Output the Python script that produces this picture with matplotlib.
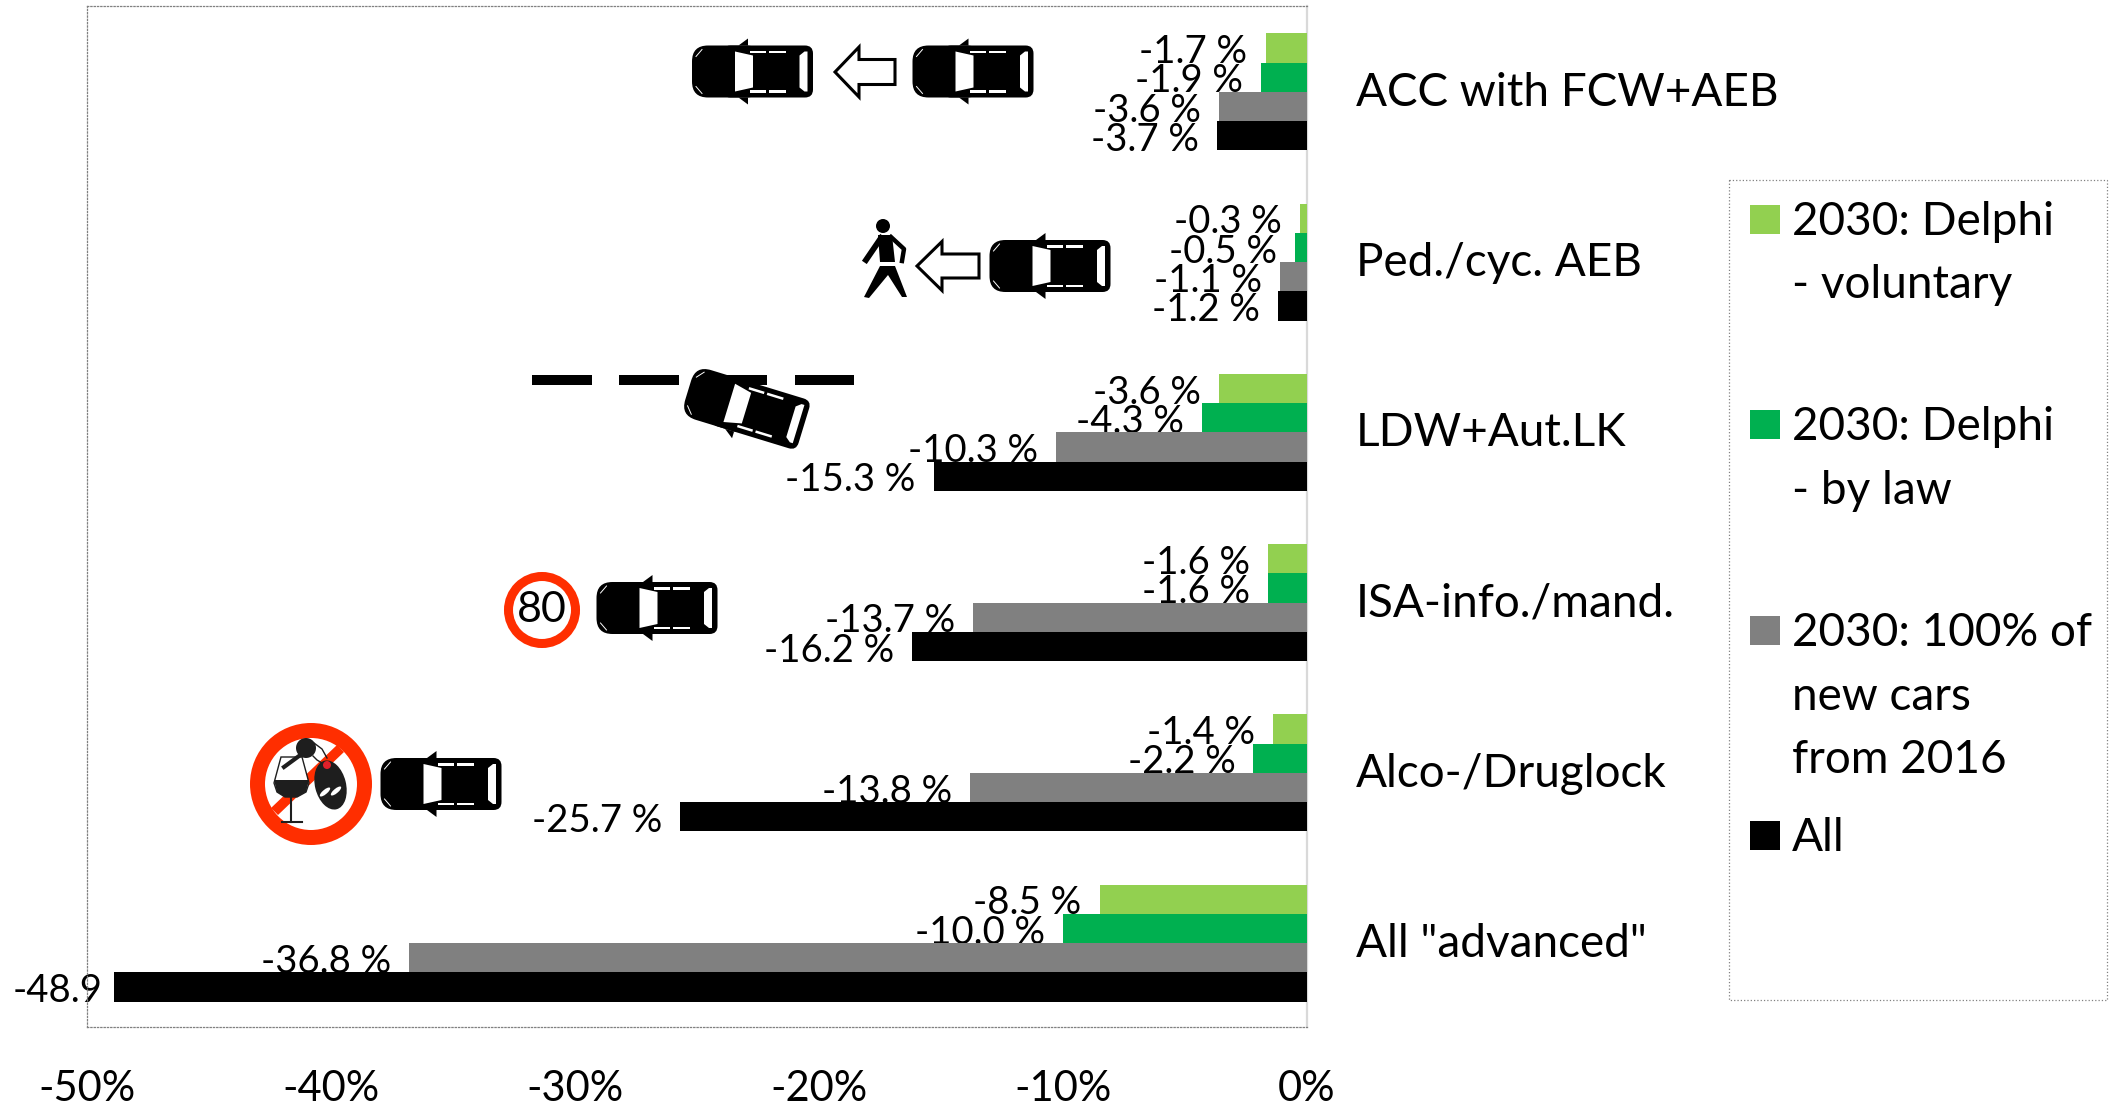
import matplotlib
matplotlib.use("Agg")
import matplotlib.pyplot as plt
from matplotlib.patches import Rectangle, Polygon, Ellipse, FancyBboxPatch, Circle
from matplotlib.transforms import Affine2D

plt.rcParams['font.family'] = ['Lato', 'DejaVu Sans']

# ── Data ──────────────────────────────────────────────────────────────
categories = ['ACC with FCW+AEB', 'Ped./cyc. AEB', 'LDW+Aut.LK',
              'ISA-info./mand.', 'Alco-/Druglock', 'All "advanced"']
delphi_voluntary = [-1.7, -0.3, -3.6, -1.6, -1.4, -8.5]
delphi_by_law    = [-1.9, -0.5, -4.3, -1.6, -2.2, -10.0]
new_cars_2016    = [-3.6, -1.1, -10.3, -13.7, -13.8, -36.8]
all_measures     = [-3.7, -1.2, -15.3, -16.2, -25.7, -48.9]

series_names = ['2030: Delphi\n- voluntary', '2030: Delphi\n- by law',
                '2030: 100% of\nnew cars\nfrom 2016', 'All']
series_colors = ['#92D050', '#00B050', '#808080', '#000000']

x_ticks = [-50, -40, -30, -20, -10, 0]
x_tick_labels = ['-50%', '-40%', '-30%', '-20%', '-10%', '0%']

W, H = 2109, 1105
RED = '#FF2E00'
DARK = '#1E1E1E'


# ── Icons, drawn in picture pixels on an overlay ──────────────────────
def draw_car(ax, cx, cy, angle=0, top_mirror=True):
    tr = Affine2D().rotate_deg(angle).translate(cx, cy) + ax.transData
    # body: rounder at the front than at the rear
    ax.add_patch(FancyBboxPatch((-60.5, -26), 70, 52,
                                boxstyle='round,pad=0,rounding_size=16',
                                fc='black', ec='none', transform=tr))
    ax.add_patch(FancyBboxPatch((-30, -26), 90.5, 52,
                                boxstyle='round,pad=0,rounding_size=8',
                                fc='black', ec='none', transform=tr))
    # mirrors
    if top_mirror:
        ax.add_patch(Polygon([(-14, -26), (-4.5, -33), (-4.5, -26)],
                             fc='black', ec='none', transform=tr))
    ax.add_patch(Polygon([(-14, 26), (-4.5, 33), (-4.5, 26)],
                         fc='black', ec='none', transform=tr))
    # windows
    ax.add_patch(Polygon([(-17.5, -20), (0.5, -16), (0.5, 16), (-17.5, 20)],
                         fc='white', ec='none', transform=tr))
    ax.add_patch(Polygon([(47, -16), (52, -20), (55, -20), (55, 20), (52, 20), (47, 16)],
                         fc='white', ec='none', transform=tr))
    for y in (-21, 18.5):
        ax.add_patch(Rectangle((-3, y), 16, 2.5, fc='white', ec='none', transform=tr))
        ax.add_patch(Rectangle((16, y), 17, 2.5, fc='white', ec='none', transform=tr))
    for sign in (-1, 1):
        ax.plot([-56.5, -50.5], [sign * 15, sign * 22], color='white', lw=0.7,
                transform=tr)


def draw_arrow(ax, x0, x1, xb, yc, half_h, half_s):
    ax.add_patch(Polygon([(x0, yc), (xb, yc - half_h), (xb, yc - half_s),
                          (x1, yc - half_s), (x1, yc + half_s), (xb, yc + half_s),
                          (xb, yc + half_h)],
                         fc='white', ec='black', lw=2.2, joinstyle='miter'))


def draw_pedestrian(ax):
    ax.add_patch(Circle((883, 226), 7, fc='black', ec='none'))
    ax.add_patch(Polygon([(878, 235), (892, 235), (895, 262), (880, 262)],
                         fc='black', ec='none'))
    ax.plot([881, 866], [238, 260], color='black', lw=4.2)
    ax.plot([891, 904, 902], [237, 249, 261], color='black', lw=3.2)
    ax.add_patch(Polygon([(880, 266), (895, 266), (907, 297), (902, 297),
                          (888, 275), (869, 298), (864, 297)],
                         fc='black', ec='none'))


def draw_speed_sign(ax, cx, cy):
    ax.add_patch(Ellipse((cx, cy), 67, 67, fc='white', ec=RED, lw=6.5))
    ax.text(cx, cy, '80', ha='center', va='center', fontsize=31,
            color='black', family=['Lato', 'DejaVu Sans'])


def draw_alco_sign(ax, cx, cy):
    ax.add_patch(Ellipse((cx, cy), 107, 107, fc='white', ec=RED, lw=10.8))
    # slash
    ax.add_patch(Polygon([(cx - 40, cy + 24), (cx + 26, cy - 39),
                          (cx + 33, cy - 32), (cx - 33, cy + 31)],
                         fc=RED, ec='none'))
    # glass
    ax.add_patch(Polygon([(cx - 30, cy - 27), (cx - 9, cy - 27), (cx - 2, cy - 1),
                          (cx - 5, cy + 8), (cx - 14, cy + 13), (cx - 26, cy + 13),
                          (cx - 34, cy + 8), (cx - 37, cy - 1)],
                         fc='white', ec=DARK, lw=1))
    ax.add_patch(Polygon([(cx - 37, cy - 4), (cx - 2, cy - 4), (cx - 5, cy + 8),
                          (cx - 14, cy + 13), (cx - 26, cy + 13), (cx - 34, cy + 8)],
                         fc=DARK, ec='none'))
    ax.plot([cx - 20, cx - 20], [cy + 13, cy + 38], color=DARK, lw=1.5)
    ax.plot([cx - 29, cx - 9], [cy + 38, cy + 38], color=DARK, lw=1.5)
    # key and fob
    ax.add_patch(Circle((cx - 5, cy - 36), 10, fc=DARK, ec='none'))
    ax.plot([cx - 12, cx - 27], [cy - 28, cy - 17], color=DARK, lw=3)
    ax.plot([cx + 3, cx + 11, cx + 16], [cy - 41, cy - 35, cy - 26], color=DARK, lw=1)
    ax.plot([cx + 2, cx + 6, cx + 11], [cy - 28, cy - 24, cy - 21], color=DARK, lw=1)
    ax.add_patch(Ellipse((cx + 19.5, cy + 1), 31, 50, angle=-14, fc=DARK, ec='none'))
    ax.add_patch(Circle((cx + 16, cy - 19), 4, fc='#E0202A', ec='none'))
    ax.add_patch(Ellipse((cx + 14, cy + 8), 4.5, 13, angle=50, fc='white', ec='none'))
    ax.add_patch(Ellipse((cx + 25, cy + 7), 4.5, 13, angle=50, fc='white', ec='none'))


# ── Chart ─────────────────────────────────────────────────────────────
fig = plt.figure(figsize=(W / 100, H / 100), dpi=100)
ax = fig.add_axes([87 / W, 1 - 1027 / H, (1307 - 87) / W, (1027 - 5.5) / H])

bar_h = 0.172
all_series = [delphi_voluntary, delphi_by_law, new_cars_2016, all_measures]

for s, (vals, color) in enumerate(zip(all_series, series_colors)):
    for i, v in enumerate(vals):
        y = i + (s - 1.5) * bar_h + 0.007
        ax.barh(y, v, height=bar_h, color=color, zorder=3)
        # the 48.9 label runs off the frame in the original, % sign is lost
        if v == -48.9:
            ax.annotate('-48.9', (v, y), xytext=(-8.5, -3), textcoords='offset points',
                        ha='right', va='center', fontsize=27.5, zorder=2)
        else:
            ax.annotate(f'{v:.1f} %', (v, y), xytext=(-13, -3), textcoords='offset points',
                        ha='right', va='center', fontsize=27.5, zorder=2)

ax.set_xlim(-50, 0)
ax.set_ylim(5.5, -0.5)
ax.set_xticks(x_ticks)
ax.set_xticklabels(x_tick_labels, fontsize=30)
ax.set_yticks(range(len(categories)))
ax.set_yticklabels(categories, fontsize=33)
ax.yaxis.tick_right()
ax.tick_params(axis='x', length=0, pad=31)
ax.tick_params(axis='y', length=0, pad=35)
for lab in ax.get_yticklabels():
    lab.set_transform(lab.get_transform() + Affine2D().translate(0, 2))

for side in ('top', 'left', 'bottom'):
    ax.spines[side].set_linestyle(':')
    ax.spines[side].set_linewidth(0.9)
    ax.spines[side].set_color('#808080')
ax.spines['right'].set_color('#D9D9D9')
ax.spines['right'].set_linewidth(1.6)

# overlay in picture pixels for icons and the hand-spaced legend
ov = fig.add_axes([0, 0, 1, 1], zorder=5)
ov.set_xlim(0, W)
ov.set_ylim(H, 0)
ov.axis('off')
ov.patch.set_alpha(0)

draw_car(ov, 752.5, 71.5)
draw_arrow(ov, 835, 895, 859, 72, 25, 12.5)
draw_car(ov, 973, 71.5)

draw_pedestrian(ov)
draw_arrow(ov, 917, 979, 942, 266, 24.5, 12)
draw_car(ov, 1050, 266)

for x0, x1 in ((532, 592), (619, 679), (706, 767), (795, 854)):
    ov.add_patch(Rectangle((x0, 375), x1 - x0, 10, fc='black', ec='none'))
draw_car(ov, 746, 408, angle=17, top_mirror=False)

draw_speed_sign(ov, 542, 610)
draw_car(ov, 657, 608)

draw_alco_sign(ov, 311, 784)
draw_car(ov, 441, 784)

# legend
ov.add_patch(Rectangle((1729, 180), 378, 820, fc='white', ec='#808080',
                       lw=0.9, ls=':'))
swatch_y = [205, 410, 616, 821]
for name, color, sy in zip(series_names, series_colors, swatch_y):
    ov.add_patch(Rectangle((1750, sy), 30, 29, fc=color, ec='none'))
    for n, line in enumerate(name.split('\n')):
        ov.text(1792, sy + 17 + n * 63.5, line, fontsize=33, va='center', ha='left')

fig.savefig('out.png', dpi=100)
